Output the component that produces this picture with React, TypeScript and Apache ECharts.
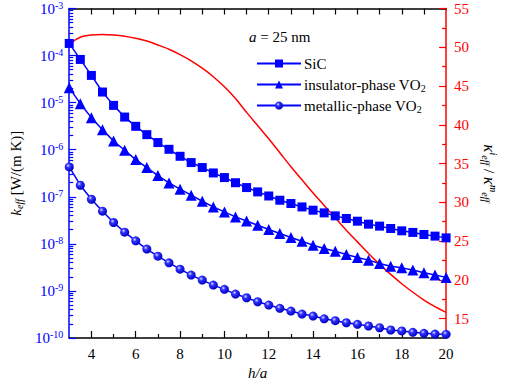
import React, { useEffect, useRef } from 'react';
import * as echarts from 'echarts';

const H_OVER_A = [3, 3.5, 4, 4.5, 5, 5.5, 6, 6.5, 7, 7.5, 8, 8.5, 9, 9.5, 10, 10.5, 11, 11.5, 12, 12.5, 13, 13.5, 14, 14.5, 15, 15.5, 16, 16.5, 17, 17.5, 18, 18.5, 19, 19.5, 20];

const SIC = [1.81e-4, 8.28e-5, 3.79e-5, 1.68e-5, 8.75e-6, 4.94e-6, 3.14e-6, 2.09e-6, 1.42e-6, 1.02e-6, 7.25e-7, 5.33e-7, 4.18e-7, 3.21e-7, 2.56e-7, 1.99e-7, 1.57e-7, 1.27e-7, 1.04e-7, 8.45e-8, 7.19e-8, 6.09e-8, 5.19e-8, 4.55e-8, 3.93e-8, 3.46e-8, 3.03e-8, 2.62e-8, 2.38e-8, 2.12e-8, 1.89e-8, 1.75e-8, 1.58e-8, 1.46e-8, 1.34e-8];

const INSULATOR = [2.08e-5, 9.51e-6, 4.8e-6, 2.67e-6, 1.53e-6, 9.72e-7, 6.17e-7, 4.18e-7, 2.83e-7, 1.97e-7, 1.45e-7, 1.08e-7, 8.05e-8, 6.09e-8, 4.77e-8, 3.74e-8, 3.06e-8, 2.49e-8, 2.02e-8, 1.66e-8, 1.37e-8, 1.14e-8, 9.38e-9, 7.98e-9, 7.0e-9, 5.96e-9, 5.14e-9, 4.51e-9, 3.84e-9, 3.36e-9, 3.09e-9, 2.77e-9, 2.43e-9, 2.17e-9, 1.94e-9];

const METALLIC = [4.3e-7, 1.76e-7, 8.87e-8, 4.94e-8, 2.84e-8, 1.77e-8, 1.16e-8, 7.73e-9, 5.48e-9, 3.95e-9, 2.9e-9, 2.17e-9, 1.7e-9, 1.33e-9, 1.08e-9, 8.57e-10, 7.16e-10, 5.89e-10, 5.01e-10, 4.27e-10, 3.74e-10, 3.23e-10, 2.93e-10, 2.56e-10, 2.33e-10, 2.11e-10, 1.95e-10, 1.8e-10, 1.65e-10, 1.48e-10, 1.41e-10, 1.32e-10, 1.26e-10, 1.21e-10, 1.2e-10];

const RATIO = [50.45, 51.3, 51.58, 51.65, 51.58, 51.42, 51.15, 50.8, 50.3, 49.75, 49.05, 48.25, 47.3, 46.2, 44.9, 43.4, 41.6, 39.9, 38.2, 36.4, 34.6, 32.9, 31.2, 29.6, 28.0, 26.4, 24.9, 23.4, 22.0, 20.7, 19.5, 18.4, 17.4, 16.55, 15.8];

const X_LABELS = [4, 6, 8, 10, 12, 14, 16, 18, 20];
const X_MINOR = [5, 7, 9, 11, 13, 15, 17, 19];
const X_TOP = [4, 5, 6, 7, 8, 9, 10, 11, 12, 13, 14, 15, 16, 17, 18, 19];
const RIGHT_TICKS = [15, 20, 25, 30, 35, 40, 45, 50, 55];
const RIGHT_MINOR = [17.5, 22.5, 27.5, 32.5, 37.5, 42.5, 47.5, 52.5];
const LEFT_EXPONENTS = [-10, -9, -8, -7, -6, -5, -4, -3];
const LEFT_MINOR_MULTIPLIERS = [2, 3, 4, 5, 6, 7, 8, 9];

const SERIES_NAMES = ['SiC', 'insulator-phase VO2', 'metallic-phase VO2'];

const FONT = "'Times New Roman', 'Liberation Serif', serif";
const BLUE = '#0000ff';
const RED = '#ff0000';

export default function App() {
  const ref = useRef<HTMLDivElement>(null);

  useEffect(() => {
    if (!ref.current) return;
    const chart = echarts.init(ref.current, null, { renderer: 'svg' });

    const leftMinor: number[] = [];
    LEFT_EXPONENTS.slice(0, -1).forEach((e) => {
      LEFT_MINOR_MULTIPLIERS.forEach((m) => leftMinor.push(m * Math.pow(10, e)));
    });

    const zip = (ys: number[]) => H_OVER_A.map((x, i) => [x, ys[i]]);

    const richBase = {
      b: { fontFamily: FONT, fontSize: 15, lineHeight: 17 },
      sup: { fontFamily: FONT, fontSize: 10, lineHeight: 10, verticalAlign: 'top' },
      sub: { fontFamily: FONT, fontSize: 10, lineHeight: 10, verticalAlign: 'bottom' },
      it: { fontFamily: FONT, fontSize: 15, lineHeight: 17, fontStyle: 'italic' },
      bigit: { fontFamily: FONT, fontSize: 17, lineHeight: 18, fontStyle: 'italic' },
      subit: { fontFamily: FONT, fontSize: 10, lineHeight: 10, verticalAlign: 'bottom', fontStyle: 'italic' },
      supit: { fontFamily: FONT, fontSize: 10, lineHeight: 10, verticalAlign: 'top', fontStyle: 'italic' },
    };

    const legendNames: Record<string, string> = {
      'SiC': '{b|SiC}',
      'insulator-phase VO2': '{b|insulator-phase VO}{sub|2}',
      'metallic-phase VO2': '{b|metallic-phase VO}{sub|2}',
    };

    const option: any = {
      animation: false,
      backgroundColor: '#ffffff',
      textStyle: { fontFamily: FONT },
      title: {
        text: '{it|a}{b| = 25 nm}',
        left: 249,
        top: 28,
        padding: 0,
        textStyle: { fontFamily: FONT, fontSize: 15, fontWeight: 'normal', color: '#000', rich: richBase },
      },
      legend: {
        data: SERIES_NAMES,
        orient: 'vertical',
        left: 256,
        top: 55,
        padding: 0,
        itemWidth: 44,
        itemHeight: 10,
        itemGap: 4,
        formatter: (name: string) => legendNames[name] || name,
        textStyle: { fontFamily: FONT, fontSize: 15, color: '#000', lineHeight: 16, padding: [0, 0, 0, -2], rich: { ...richBase, b: { ...richBase.b, color: '#000' }, sub: { ...richBase.sub, color: '#000' } } },
      },
      grid: { left: 68, right: 48, top: 8, bottom: 50, containLabel: false },
      xAxis: [
        {
          type: 'value', position: 'bottom', min: 3, max: 20,
          name: 'h/a', nameLocation: 'middle', nameGap: 27,
          nameTextStyle: { fontFamily: FONT, fontSize: 15, fontStyle: 'italic', color: '#000' },
          axisLine: { show: true, lineStyle: { color: '#000', width: 1.5 } },
          axisTick: { show: true, inside: true, length: 7, customValues: X_LABELS, lineStyle: { color: '#000', width: 1.2 } },
          axisLabel: { customValues: X_LABELS, fontFamily: FONT, fontSize: 15, color: '#000', margin: 8 },
          splitLine: { show: false },
        },
        {
          type: 'value', position: 'bottom', min: 3, max: 20,
          axisLine: { show: false },
          axisTick: { show: true, inside: true, length: 4, customValues: X_MINOR, lineStyle: { color: '#000', width: 1.2 } },
          axisLabel: { show: false },
          splitLine: { show: false },
        },
        {
          type: 'value', position: 'top', min: 3, max: 20,
          axisLine: { show: true, lineStyle: { color: '#000', width: 1.5 } },
          axisTick: { show: true, inside: true, length: 6, customValues: X_TOP, lineStyle: { color: '#000', width: 1.2 } },
          axisLabel: { show: false },
          splitLine: { show: false },
        },
      ],
      yAxis: [
        {
          type: 'log', logBase: 10, position: 'left', min: 1e-10, max: 1e-3, interval: 1,
          name: '{it|k}{subit|eff}{b| [W/(m K)]}', nameLocation: 'middle', nameGap: 40, nameRotate: 90,
          nameTextStyle: { color: '#000', rich: richBase },
          axisLine: { show: true, lineStyle: { color: BLUE, width: 1.5 } },
          axisTick: { show: true, inside: true, length: 7, lineStyle: { color: BLUE, width: 1.2 } },
          axisLabel: {
            margin: 6,
            formatter: (v: number) => '{b|10}{sup|' + Math.round(Math.log10(v)) + '}',
            rich: { b: { ...richBase.b, color: BLUE }, sup: { ...richBase.sup, color: BLUE } },
          },
          splitLine: { show: false },
          minorTick: { show: false },
        },
        {
          type: 'log', logBase: 10, position: 'left', min: 1e-10, max: 1e-3,
          axisLine: { show: false },
          axisTick: { show: true, inside: true, length: 4, customValues: leftMinor, lineStyle: { color: BLUE, width: 1.2 } },
          axisLabel: { show: false },
          splitLine: { show: false },
        },
        {
          type: 'value', position: 'right', min: 12.5, max: 55,
          name: '{bigit|κ}{supit|i}{subit|eff}{b| / }{bigit|κ}{supit|m}{subit|eff}',
          nameLocation: 'middle', nameGap: 32, nameRotate: -90,
          nameTextStyle: { color: '#000', rich: richBase, padding: [0, 0, 0, 0] },
          axisLine: { show: true, lineStyle: { color: RED, width: 1.5 } },
          axisTick: { show: true, inside: true, length: 7, customValues: RIGHT_TICKS, lineStyle: { color: RED, width: 1.2 } },
          axisLabel: { customValues: RIGHT_TICKS, fontFamily: FONT, fontSize: 15, color: RED, margin: 8 },
          splitLine: { show: false },
        },
        {
          type: 'value', position: 'right', min: 12.5, max: 55,
          axisLine: { show: false },
          axisTick: { show: true, inside: true, length: 4, customValues: RIGHT_MINOR, lineStyle: { color: RED, width: 1.2 } },
          axisLabel: { show: false },
          splitLine: { show: false },
        },
      ],
      series: [
        {
          name: SERIES_NAMES[0], type: 'line', xAxisIndex: 0, yAxisIndex: 0, data: zip(SIC),
          symbol: 'rect', symbolSize: 9,
          lineStyle: { color: BLUE, width: 1.5 }, itemStyle: { color: BLUE },
        },
        {
          name: SERIES_NAMES[1], type: 'line', xAxisIndex: 0, yAxisIndex: 0, data: zip(INSULATOR),
          symbol: 'triangle', symbolSize: 11,
          lineStyle: { color: BLUE, width: 1.5 }, itemStyle: { color: BLUE },
        },
        {
          name: SERIES_NAMES[2], type: 'line', xAxisIndex: 0, yAxisIndex: 0, data: zip(METALLIC),
          symbol: 'circle', symbolSize: 9,
          lineStyle: { color: BLUE, width: 1.5 },
          itemStyle: {
            color: {
              type: 'radial', x: 0.38, y: 0.35, r: 0.65,
              colorStops: [
                { offset: 0, color: '#d8d8ff' },
                { offset: 0.35, color: '#3030ff' },
                { offset: 1, color: '#0000c0' },
              ],
            },
          },
        },
        {
          name: 'ratio', type: 'line', xAxisIndex: 0, yAxisIndex: 2, data: zip(RATIO),
          symbol: 'none', smooth: 0.3,
          lineStyle: { color: RED, width: 1.5 },
        },
      ],
    };

    chart.setOption(option);
    return () => chart.dispose();
  }, []);

  return (
    <div
      ref={ref}
      style={{ position: 'fixed', left: 0, top: 0, width: 506, height: 388, background: '#fff' }}
    />
  );
}
